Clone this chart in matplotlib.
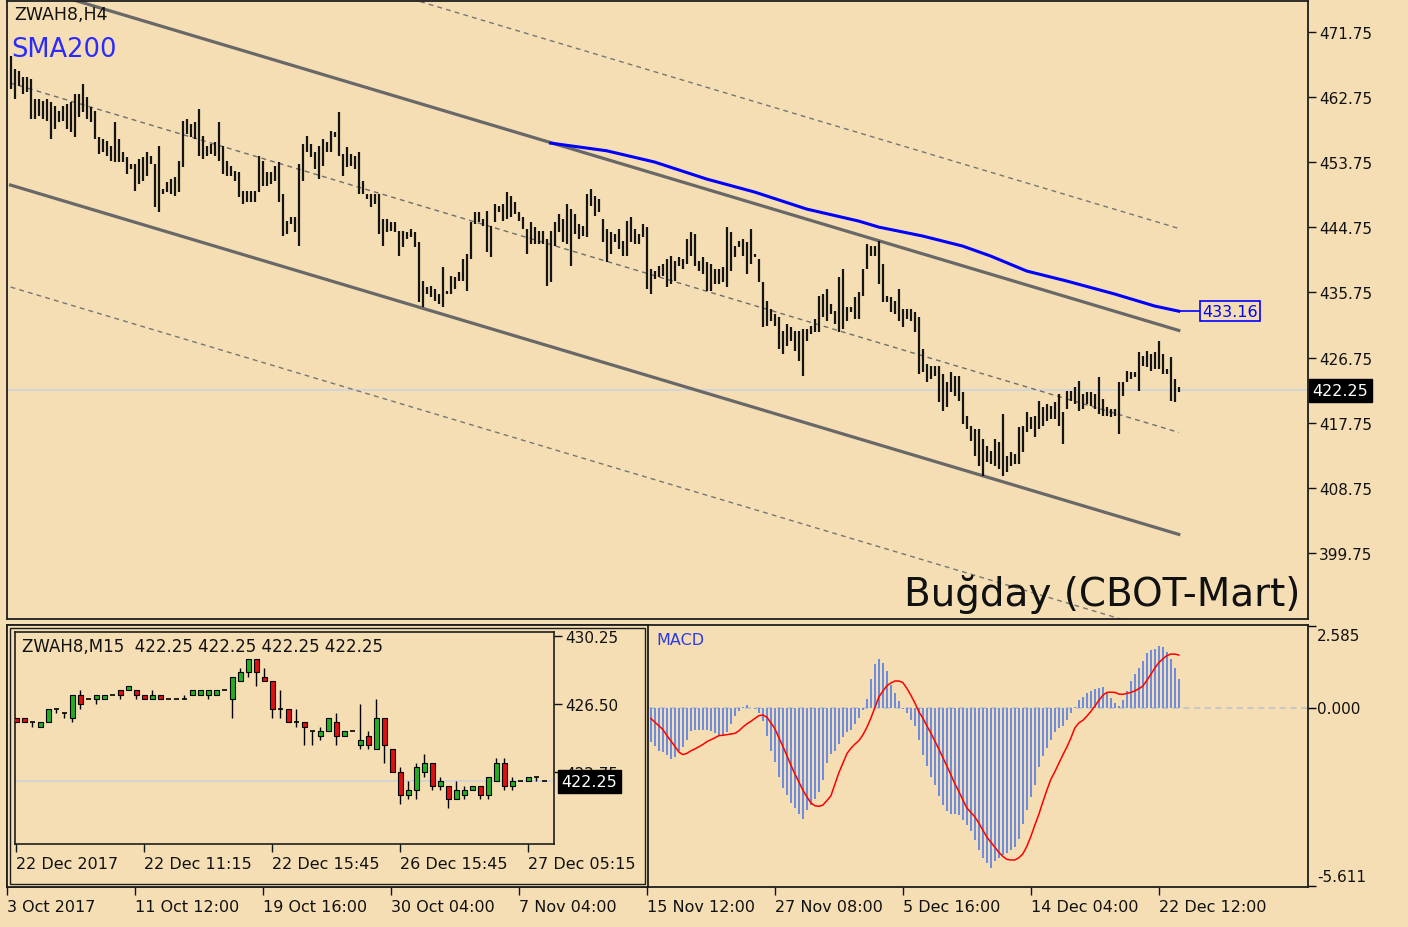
"""ZWAH8 wheat futures: H4 bars with SMA200 and std-dev channel, MACD panel, M15 inset."""

import numpy as np
import matplotlib
matplotlib.use('Agg')
import matplotlib.pyplot as plt
from matplotlib.patches import Rectangle
from matplotlib.transforms import blended_transform_factory

W, H = 1408, 928
BG = '#f5deb3'
FRAME = '#1e1e1e'

# ---- H4 bars, bar 1 .. 293 ----
bar_high = [
    468.48, 466.64, 466.40, 465.48, 465.48, 465.25, 462.49, 462.49, 462.26, 462.49,
    462.03, 461.57, 460.87, 461.57, 461.80, 462.03, 463.18, 463.18, 464.56, 462.72,
    461.34, 460.87, 457.19, 456.96, 456.73, 456.04, 459.26, 456.96, 455.11, 454.42,
    453.50, 453.50, 454.19, 454.42, 455.11, 454.65, 453.50, 456.04, 450.05, 450.97,
    451.43, 451.66, 453.96, 459.49, 459.72, 459.03, 459.26, 461.11, 457.42, 456.04,
    456.27, 456.50, 459.27, 456.04, 453.97, 453.27, 452.58, 452.35, 449.82, 449.82,
    449.82, 449.82, 454.66, 453.97, 452.35, 452.35, 453.27, 453.74, 449.36, 445.67,
    446.13, 446.13, 453.51, 456.27, 457.42, 456.27, 455.12, 456.04, 456.96, 456.50,
    458.11, 457.88, 460.65, 454.89, 455.81, 454.89, 454.66, 455.12, 451.20, 449.36,
    449.36, 449.36, 449.36, 445.90, 445.90, 445.44, 445.44, 444.29, 444.29, 444.06,
    444.52, 444.06, 442.67, 437.37, 436.45, 436.68, 436.22, 435.53, 439.22, 435.99,
    438.07, 437.84, 438.53, 440.37, 441.06, 445.44, 446.82, 446.82, 445.90, 447.05,
    444.98, 447.97, 447.74, 447.97, 449.59, 449.13, 448.20, 446.82, 446.13, 444.52,
    445.44, 444.75, 444.29, 444.29, 443.14, 444.29, 445.44, 446.59, 445.90, 447.97,
    447.28, 446.59, 445.21, 444.98, 449.36, 450.05, 449.13, 448.67, 445.90, 444.51,
    444.05, 443.82, 444.51, 442.90, 445.66, 446.13, 444.51, 443.82, 445.20, 444.74,
    438.98, 438.75, 439.44, 439.67, 440.37, 440.83, 440.13, 440.60, 440.37, 443.13,
    444.05, 443.82, 440.13, 440.60, 439.90, 439.67, 438.98, 438.98, 439.21, 444.74,
    444.05, 442.21, 442.90, 443.13, 442.67, 444.51, 441.06, 440.37, 437.14, 434.60,
    433.45, 432.76, 432.30, 430.46, 431.38, 430.92, 430.46, 430.46, 430.69, 430.69,
    431.15, 432.07, 435.29, 435.52, 436.22, 434.14, 433.22, 437.83, 438.98, 433.68,
    433.68, 435.06, 435.75, 438.98, 442.44, 442.21, 442.21, 442.90, 439.67, 435.29,
    435.06, 434.60, 436.22, 433.45, 433.45, 433.45, 432.99, 432.30, 427.92, 425.85,
    425.62, 425.62, 425.62, 424.46, 423.31, 424.69, 424.23, 424.23, 421.93, 418.70,
    417.32, 416.86, 416.86, 415.48, 414.50, 413.87, 415.48, 415.02, 418.94, 413.18,
    413.64, 413.41, 417.10, 417.33, 419.17, 418.48, 418.71, 420.78, 419.86, 420.32,
    420.09, 420.55, 421.70, 419.17, 422.16, 422.16, 422.63, 423.55, 421.70, 421.93,
    421.93, 421.70, 424.01, 421.01, 419.86, 419.63, 419.63, 423.32, 423.32, 424.93,
    424.70, 424.70, 427.46, 427.00, 427.69, 427.23, 427.46, 429.08, 427.23, 425.16,
    426.77, 423.78, 422.63,
]
bar_low = [
    463.87, 462.49, 464.33, 463.18, 463.41, 459.72, 459.72, 460.18, 459.72, 459.49,
    456.96, 458.34, 459.26, 459.49, 458.34, 457.88, 457.19, 459.95, 460.64, 459.72,
    459.26, 456.96, 454.88, 455.11, 454.65, 453.96, 453.73, 453.73, 453.73, 452.12,
    452.81, 449.81, 450.74, 451.20, 451.89, 453.50, 447.51, 446.82, 449.35, 449.58,
    449.35, 449.12, 449.58, 453.04, 457.65, 457.19, 456.96, 454.65, 454.19, 454.65,
    454.89, 454.66, 453.97, 452.12, 451.89, 451.89, 451.20, 448.90, 447.98, 448.21,
    448.21, 448.21, 449.59, 450.51, 450.51, 450.74, 451.20, 448.21, 443.60, 443.83,
    445.21, 444.06, 442.21, 451.20, 455.12, 454.43, 452.81, 451.43, 453.27, 455.12,
    455.12, 457.19, 454.66, 451.89, 453.04, 453.27, 452.81, 449.36, 449.36, 448.67,
    447.51, 447.98, 443.83, 442.21, 444.06, 444.29, 444.06, 440.83, 441.98, 443.14,
    443.37, 441.98, 434.38, 433.69, 435.53, 435.07, 434.61, 434.15, 433.69, 435.53,
    435.53, 436.22, 437.37, 437.37, 435.99, 440.37, 445.21, 445.44, 444.98, 441.29,
    440.60, 445.44, 446.82, 445.67, 445.90, 446.13, 446.59, 445.67, 444.52, 441.06,
    442.44, 442.44, 442.44, 442.44, 436.68, 437.14, 442.21, 444.06, 442.67, 442.44,
    439.45, 443.83, 443.14, 443.60, 443.37, 447.74, 446.36, 446.82, 442.67, 439.90,
    441.06, 442.67, 441.75, 440.83, 440.83, 442.67, 442.44, 442.44, 443.36, 436.22,
    435.53, 437.60, 437.83, 438.06, 436.45, 436.91, 437.37, 439.44, 438.98, 439.67,
    440.83, 439.44, 438.75, 438.29, 436.00, 436.00, 436.91, 436.91, 437.14, 436.45,
    438.75, 440.60, 441.98, 440.83, 438.29, 439.67, 440.60, 437.14, 430.92, 431.15,
    431.84, 431.15, 427.92, 427.23, 428.38, 429.08, 427.69, 426.31, 424.23, 429.07,
    429.99, 430.22, 430.22, 432.30, 431.84, 432.76, 431.38, 430.22, 430.69, 431.84,
    432.99, 432.07, 432.07, 435.29, 438.98, 440.82, 440.82, 436.91, 434.37, 434.37,
    432.99, 432.76, 431.84, 430.92, 432.07, 431.84, 430.22, 424.46, 424.69, 423.31,
    423.77, 424.23, 420.55, 419.40, 419.86, 421.93, 421.47, 420.78, 417.55, 416.86,
    415.25, 413.17, 411.79, 410.41, 412.25, 412.03, 411.80, 411.34, 410.41, 410.87,
    411.80, 412.03, 412.03, 413.64, 416.40, 416.87, 415.71, 416.87, 417.33, 418.02,
    418.25, 418.25, 417.33, 414.79, 419.63, 420.78, 420.32, 419.40, 419.63, 420.32,
    420.09, 419.63, 418.94, 418.71, 418.71, 418.48, 418.71, 416.17, 421.47, 423.32,
    423.78, 424.01, 422.16, 425.62, 425.39, 424.93, 425.16, 425.16, 424.47, 424.47,
    420.78, 420.55, 421.93,
]

# std-dev channel: centre line at first and last bar, one deviation
chan_start = 464.70
chan_end = 416.40
chan_dev = 14.10

# SMA200 (bar index, value)
sma_bars = [136, 150, 162, 175, 187, 200, 213, 218, 229, 239, 246, 255, 265, 277, 287, 293]
sma_vals = [456.40, 455.34, 453.78, 451.43, 449.63, 447.28, 445.62, 444.79, 443.55,
            442.16, 440.78, 438.71, 437.33, 435.53, 433.87, 433.16]

last_price = 422.25
price_ticks = [471.75, 462.75, 453.75, 444.75, 435.75, 426.75, 417.75, 408.75, 399.75]
date_bars = [0, 32, 64, 96, 128, 160, 192, 224, 256, 288]
date_labels = ['3 Oct 2017', '11 Oct 12:00', '19 Oct 16:00', '30 Oct 04:00', '7 Nov 04:00',
               '15 Nov 12:00', '27 Nov 08:00', '5 Dec 16:00', '14 Dec 04:00', '22 Dec 12:00']

# ---- MACD, visible part from bar 161 ----
macd_first_bar = 161
macd_hist = [
    -1.07, -1.21, -1.34, -1.40, -1.47, -1.61, -1.53, -1.37, -1.23, -1.00,
    -0.74, -0.68, -0.68, -0.68, -0.70, -0.74, -0.79, -0.84, -0.89, -0.77,
    -0.49, -0.26, -0.10, 0.04, 0.11, -0.01, -0.03, -0.15, -0.42, -0.89,
    -1.37, -1.69, -2.16, -2.53, -2.75, -2.99, -3.14, -3.33, -3.49, -3.22,
    -3.07, -2.88, -2.64, -2.27, -1.74, -1.44, -1.34, -1.13, -0.92, -0.77,
    -0.68, -0.52, -0.31, -0.07, 0.29, 0.90, 1.38, 1.54, 1.43, 1.17,
    0.71, 0.46, 0.22, -0.03, -0.17, -0.37, -0.56, -1.00, -1.48, -1.83,
    -2.16, -2.43, -2.78, -3.06, -3.24, -3.33, -3.33, -3.38, -3.54, -3.70,
    -3.88, -4.15, -4.49, -4.72, -4.89, -5.04, -4.83, -4.72, -4.64, -4.56,
    -4.47, -4.37, -4.12, -3.65, -3.20, -2.80, -2.43, -1.87, -1.51, -1.26,
    -1.00, -0.77, -0.63, -0.58, -0.37, -0.17, 0.04, 0.25, 0.35, 0.46,
    0.54, 0.59, 0.63, 0.67, 0.46, 0.31, 0.16, 0.06, 0.25, 0.53,
    0.85, 1.06, 1.27, 1.49, 1.73, 1.84, 1.86, 1.94, 1.92, 1.77,
    1.56, 1.27, 0.90,
]
macd_signal = [
    -0.33, -0.45, -0.56, -0.68, -0.87, -1.04, -1.21, -1.39, -1.47, -1.43,
    -1.35, -1.29, -1.22, -1.15, -1.06, -1.00, -0.94, -0.87, -0.86, -0.84,
    -0.82, -0.80, -0.72, -0.60, -0.50, -0.42, -0.33, -0.24, -0.22, -0.29,
    -0.47, -0.65, -0.94, -1.21, -1.50, -1.80, -2.08, -2.33, -2.59, -2.80,
    -2.99, -3.08, -3.10, -3.06, -2.92, -2.77, -2.40, -2.04, -1.74, -1.44,
    -1.27, -1.14, -1.03, -0.85, -0.61, -0.32, 0.01, 0.35, 0.53, 0.70,
    0.79, 0.85, 0.85, 0.80, 0.62, 0.40, 0.16, -0.12, -0.32, -0.56,
    -0.79, -1.04, -1.30, -1.56, -1.83, -2.10, -2.39, -2.63, -2.90, -3.15,
    -3.29, -3.43, -3.63, -3.85, -4.07, -4.23, -4.39, -4.55, -4.68, -4.77,
    -4.79, -4.79, -4.72, -4.60, -4.36, -4.05, -3.69, -3.35, -2.96, -2.59,
    -2.25, -2.01, -1.74, -1.48, -1.23, -0.95, -0.63, -0.47, -0.39, -0.26,
    -0.11, 0.06, 0.24, 0.40, 0.49, 0.50, 0.49, 0.44, 0.43, 0.46,
    0.49, 0.54, 0.61, 0.69, 0.87, 1.06, 1.26, 1.43, 1.55, 1.65,
    1.70, 1.70, 1.67,
]
macd_max = 2.585
macd_min = -5.611

# ---- M15 inset candles ----
m15_open = [
    425.75, 425.75, 425.50, 425.25, 425.50, 426.25, 426.00, 425.75, 427.00, 426.75,
    426.75, 426.75, 427.00, 427.25, 427.25, 427.25, 427.00, 426.75, 427.00, 426.75,
    426.75, 426.75, 427.00, 427.00, 427.00, 427.00, 427.25, 426.75, 427.75, 428.25,
    429.00, 428.00, 427.75, 426.25, 426.25, 425.50, 425.50, 425.00, 424.75, 425.00,
    425.50, 424.75, 425.00, 424.25, 424.75, 424.00, 425.75, 424.00, 422.75, 421.50,
    421.75, 422.75, 423.25, 422.00, 422.00, 421.25, 421.50, 421.75, 422.00, 421.50,
    422.25, 423.25, 422.00, 422.25, 422.25, 422.50, 422.25,
]
m15_high = [
    425.75, 425.75, 425.50, 425.50, 426.25, 426.25, 426.00, 427.00, 427.25, 426.75,
    427.00, 427.00, 427.00, 427.25, 427.50, 427.25, 427.00, 427.25, 427.00, 426.75,
    426.75, 427.00, 427.25, 427.25, 427.25, 427.25, 427.25, 428.00, 428.50, 429.00,
    429.00, 428.50, 427.75, 427.25, 426.25, 426.25, 425.50, 425.00, 425.25, 425.75,
    426.00, 425.00, 425.00, 426.50, 425.00, 426.75, 425.75, 424.00, 423.00, 422.25,
    423.25, 423.75, 423.25, 422.50, 422.00, 422.25, 422.00, 422.00, 422.00, 422.50,
    423.50, 423.50, 422.50, 422.25, 422.50, 422.50, 422.25,
]
m15_low = [
    425.50, 425.50, 425.25, 425.25, 425.50, 426.00, 425.75, 425.50, 426.25, 426.75,
    426.50, 426.75, 427.00, 426.75, 427.25, 426.75, 426.75, 426.75, 426.75, 426.75,
    426.75, 426.75, 427.00, 427.00, 426.75, 427.00, 427.25, 425.75, 427.75, 428.00,
    427.50, 427.75, 425.75, 425.75, 425.50, 425.25, 424.25, 424.25, 424.50, 425.00,
    424.25, 424.75, 425.00, 424.00, 424.00, 424.00, 423.25, 422.75, 421.00, 421.25,
    421.25, 422.50, 421.75, 421.75, 420.75, 421.25, 421.25, 421.75, 421.25, 421.25,
    422.25, 421.75, 421.75, 422.25, 422.25, 422.25, 422.25,
]
m15_close = [
    425.50, 425.50, 425.50, 425.50, 426.25, 426.25, 426.00, 427.00, 426.50, 426.75,
    427.00, 427.00, 427.00, 427.00, 427.50, 427.00, 426.75, 427.00, 426.75, 426.75,
    426.75, 426.75, 427.25, 427.25, 427.25, 427.25, 427.25, 428.00, 428.25, 429.00,
    428.25, 427.75, 426.25, 426.25, 425.50, 425.50, 425.25, 425.00, 425.00, 425.75,
    424.75, 425.00, 425.00, 424.50, 424.25, 425.75, 424.25, 422.75, 421.50, 421.75,
    423.00, 423.25, 422.00, 422.25, 421.25, 421.75, 421.75, 422.00, 421.50, 422.50,
    423.25, 422.00, 422.25, 422.25, 422.50, 422.50, 422.25,
]
m15_ticks = [1, 17, 33, 49, 65]
m15_labels = ['22 Dec 2017', '22 Dec 11:15', '22 Dec 15:45', '26 Dec 15:45', '27 Dec 05:15']
m15_price_ticks = [430.25, 426.50, 422.75]


def box(x0, y0, x1, y1):
    """Pixel box (left, top, right, bottom) -> figure-fraction rect."""
    return [x0 / W, 1 - y1 / H, (x1 - x0) / W, (y1 - y0) / H]


def style_frame(ax, lw=1.3):
    for sp in ax.spines.values():
        sp.set_color(FRAME)
        sp.set_linewidth(lw)


def price_tag(ax, y, text, x=1.0, pad=0.25, fontsize=11.5):
    tr = blended_transform_factory(ax.transAxes, ax.transData)
    ax.text(x, y, text, transform=tr, ha='left', va='center', color='white',
            fontsize=fontsize, clip_on=False, zorder=10,
            bbox=dict(boxstyle=f'square,pad={pad}', fc='black', ec='black'))


def main():
    plt.rcParams.update({'font.family': 'DejaVu Sans', 'font.size': 11})
    fig = plt.figure(figsize=(W / 100, H / 100), dpi=100, facecolor=BG)
    xlim = (0.1, 325.3)

    # ---- main H4 panel ----
    ax = fig.add_axes(box(7, 2, 1308, 620), facecolor=BG)
    ax.set_xlim(*xlim)
    ax.set_ylim(390.6, 476.05)
    n = len(bar_high)
    idx = np.arange(1, n + 1)

    ax.axhline(last_price, color='#cdd3db', lw=1.2, zorder=1)

    ends = np.array([1, n])
    centre = np.array([chan_start, chan_end])
    dash = (0, (3.5, 3))
    ax.plot(ends, centre, color='#6e6e6e', lw=1, ls=dash, zorder=2)
    for s in (1, -1):
        ax.plot(ends, centre + s * chan_dev, color='#686868', lw=2.3, zorder=2)
        ax.plot(ends, centre + s * 2 * chan_dev, color='#767676', lw=1, ls=dash, zorder=2)

    ax.vlines(idx, bar_low, bar_high, color='#141414', lw=1.6, zorder=3)
    ax.plot(sma_bars, sma_vals, color='#0000ff', lw=2.2, zorder=4)

    # SMA value tag
    ax.plot([sma_bars[-1], 298.3], [sma_vals[-1]] * 2, color='#0000ff', lw=1.2,
            clip_on=False, zorder=4)
    ax.text(298.9, sma_vals[-1], f'{sma_vals[-1]:.2f}', color='#0000ff', fontsize=11.5,
            ha='left', va='center', zorder=5,
            bbox=dict(boxstyle='square,pad=0.15', fc=BG, ec='#0000ff', lw=1.2))
    price_tag(ax, last_price, f'{last_price:.2f}', x=1.0035)

    ax.set_xticks([])
    ax.yaxis.tick_right()
    ax.set_yticks(price_ticks)
    ax.set_yticklabels([f'{v:.2f}' for v in price_ticks])
    ax.tick_params(axis='y', length=6, width=1, pad=2, labelsize=11, colors='#111111')
    style_frame(ax)

    fig.text(14 / W, 1 - 15 / H, 'ZWAH8,H4', fontsize=12.5, va='center', color='#111111')
    fig.text(11 / W, 1 - 50 / H, 'SMA200', fontsize=18.5, va='center', color='#2a2aff')
    fig.text(1300 / W, 1 - 595 / H, 'Buğday (CBOT-Mart)', fontsize=28, ha='right',
             va='center', color='#111111')

    # ---- MACD panel ----
    ax2 = fig.add_axes(box(7, 626, 1308, 888), facecolor=BG)
    ax2.set_xlim(*xlim)
    span = (macd_max - macd_min) / 260.0
    ax2.set_ylim(macd_min - span, macd_max + span)
    mb = np.arange(macd_first_bar, macd_first_bar + len(macd_hist))
    ax2.axhline(0, color='#b9c2cc', lw=1.1, ls=(0, (4, 3)), zorder=1)
    ax2.bar(mb, macd_hist, width=0.45, color='#6d8ee0', lw=0, zorder=2)
    ax2.plot(mb, macd_signal, color='#ff0000', lw=1.1, zorder=3)

    ax2.yaxis.tick_right()
    ax2.set_yticks([macd_max, 0.0, macd_min])
    ax2.set_yticklabels([])
    ax2.tick_params(axis='y', length=6, width=1)
    tr2 = blended_transform_factory(ax2.transAxes, ax2.transData)
    for v, dy in ((macd_max, -6.5), (0.0, 0.0), (macd_min, 6.5)):
        ax2.annotate(f'{v:.3f}', xy=(1, v), xycoords=tr2, xytext=(6.5, dy),
                     textcoords='offset points', ha='left', va='center',
                     fontsize=11, color='#111111', annotation_clip=False)

    ax2.set_xticks(date_bars)
    ax2.set_xticklabels(date_labels)
    plt.setp(ax2.get_xticklabels(), ha='left')
    ax2.tick_params(axis='x', length=6, width=1, pad=3, labelsize=11.5, colors='#111111')
    style_frame(ax2)
    fig.text(656 / W, 1 - 641 / H, 'MACD', fontsize=11.5, va='center', color='#2b3be0')

    # ---- M15 inset ----
    outer = Rectangle((7 / W, 1 - 888 / H), 641 / W, 262 / H, transform=fig.transFigure,
                      fc=BG, ec=FRAME, lw=1.3, zorder=5)
    inner = Rectangle((10 / W, 1 - 885 / H), 635 / W, 256 / H, transform=fig.transFigure,
                      fill=False, ec=FRAME, lw=1.0, zorder=5)
    fig.add_artist(outer)
    fig.add_artist(inner)

    ax3 = fig.add_axes(box(14.5, 633, 554, 845), facecolor=BG, zorder=6)
    ax3.set_xlim(0.75, 68.19)
    ax3.set_ylim(418.78, 430.47)
    o = np.array(m15_open)
    h = np.array(m15_high)
    l = np.array(m15_low)
    c = np.array(m15_close)
    ci = np.arange(1, len(o) + 1)
    ax3.axhline(last_price, color='#cdd3db', lw=1.2, zorder=1)
    ax3.vlines(ci, l, h, color='black', lw=1.0, zorder=2)
    up = c > o
    dn = c < o
    flat = c == o
    ax3.bar(ci[up], (c - o)[up], bottom=o[up], width=0.62, color='#22b022',
            edgecolor='black', lw=0.8, zorder=3)
    ax3.bar(ci[dn], (c - o)[dn], bottom=o[dn], width=0.62, color='#dd1111',
            edgecolor='black', lw=0.8, zorder=3)
    ax3.hlines(o[flat], ci[flat] - 0.31, ci[flat] + 0.31, color='black', lw=1.2, zorder=3)

    ax3.yaxis.tick_right()
    ax3.set_yticks(m15_price_ticks)
    ax3.set_yticklabels([f'{v:.2f}' for v in m15_price_ticks])
    ax3.tick_params(axis='y', length=6, width=1, pad=2, labelsize=11, colors='#111111')
    ax3.set_xticks(m15_ticks)
    ax3.set_xticklabels(m15_labels)
    plt.setp(ax3.get_xticklabels(), ha='left')
    ax3.tick_params(axis='x', length=6, width=1, pad=3, labelsize=11.5, colors='#111111')
    style_frame(ax3, lw=1.2)
    price_tag(ax3, last_price, f'{last_price:.2f}', x=1.014)
    c_last = m15_close[-1]
    ax3.text(0.013, 0.934, f'ZWAH8,M15  {o[-1]:.2f} {h[-1]:.2f} {l[-1]:.2f} {c_last:.2f}',
             transform=ax3.transAxes, fontsize=12, va='center', color='#111111')

    fig.savefig('out.png', dpi=100, facecolor=BG)
    plt.close(fig)


if __name__ == '__main__':
    main()
